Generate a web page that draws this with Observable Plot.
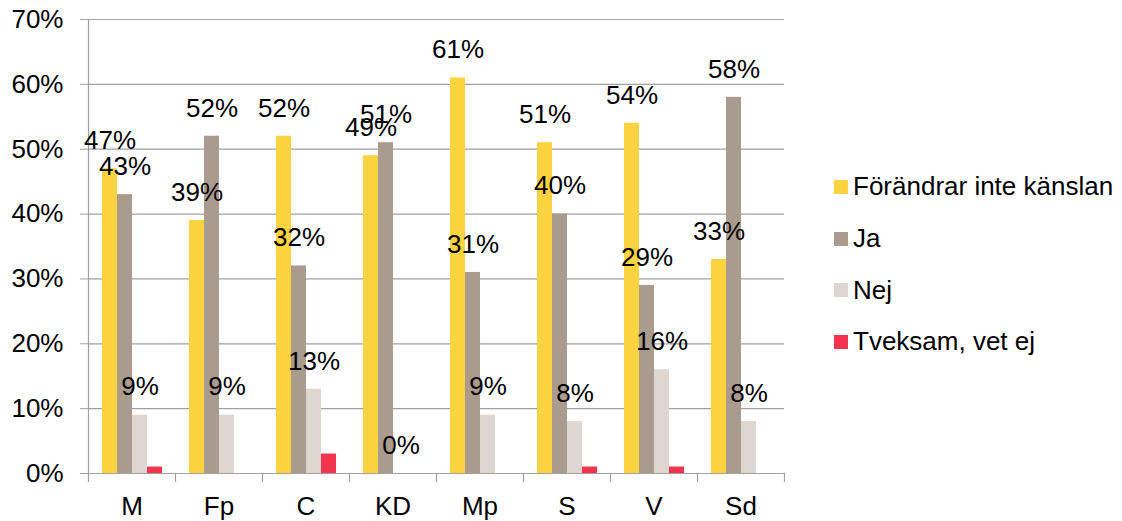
<!DOCTYPE html>
<html>
<head>
<meta charset="utf-8">
<script src="https://cdn.jsdelivr.net/npm/d3@7"></script>
<script src="https://cdn.jsdelivr.net/npm/@observablehq/plot@0.6"></script>
<style>
  html, body { margin: 0; padding: 0; background: #fff; }
  #wrap { position: relative; width: 1122px; height: 521px; font-family: "Liberation Sans", Arial, sans-serif; }
  #legend { position: absolute; left: 834px; top: 161px; font-size: 26px; color: #000; }
  #legend .item { display: flex; align-items: center; height: 51.7px; white-space: nowrap; }
  #legend .sw { width: 14px; height: 14px; margin-right: 5px; flex: none; }
</style>
</head>
<body>
<div id="wrap"></div>
<script>
const parties = ["M", "Fp", "C", "KD", "Mp", "S", "V", "Sd"];
const series = ["Förändrar inte känslan", "Ja", "Nej", "Tveksam, vet ej"];
const forandrar = [47, 39, 52, 49, 61, 51, 54, 33];
const ja = [43, 52, 32, 51, 31, 40, 29, 58];
const nej = [9, 9, 13, 0, 9, 8, 16, 8];
const tveksam = [1, null, 3, null, null, 1, 1, null];
const labelledSeries = ["Förändrar inte känslan", "Ja", "Nej"];
const colors = ["#FDD33F", "#A99B8D", "#DED7D1", "#F2344F"];
const yTicks = [0, 10, 20, 30, 40, 50, 60, 70];

const valuesBySeries = [forandrar, ja, nej, tveksam];
const data = [];
parties.forEach((p, i) => {
  series.forEach((s, j) => {
    const v = valuesBySeries[j][i];
    if (v !== null && v !== undefined) data.push({party: p, series: s, value: v});
  });
});
const labels = data.filter(d => labelledSeries.includes(d.series));

const W = 1122, H = 521, mT = 19, mB = 48, mL = 88, mR = 338;
const gridColor = "#a0a0a0";

const chart = Plot.plot({
  width: W, height: H,
  marginLeft: mL, marginRight: mR, marginTop: mT, marginBottom: mB,
  style: {fontFamily: "'Liberation Sans', Arial, sans-serif", fontSize: "26px", color: "#000", background: "#fff", overflow: "visible"},
  fx: {domain: parties, padding: 0, label: null, axis: "bottom", tickSize: 0, tickPadding: 23},
  x: {domain: series, paddingInner: 0, paddingOuter: 0.72, axis: null},
  y: {domain: [0, 70], axis: null},
  color: {domain: series, range: colors},
  marks: [
    Plot.ruleY(yTicks, {stroke: gridColor, strokeWidth: 1.2}),
    Plot.axisY({ticks: yTicks, tickSize: 8, tickPadding: 17, stroke: gridColor, fill: "#000", tickFormat: d => d + "%", label: null}),
    Plot.frame({anchor: "left", fx: ["M"], insetBottom: -8, stroke: gridColor, strokeWidth: 1.2}),
    Plot.frame({anchor: "right", insetTop: H - mT - mB, insetBottom: -8, stroke: gridColor, strokeWidth: 1.2}),
    Plot.barY(data, {fx: "party", x: "series", y: "value", fill: "series"}),
    Plot.text(labels, {fx: "party", x: "series", y: "value", text: d => d.value + "%", dy: -28, fill: "#000"})
  ]
});

const wrap = document.getElementById("wrap");
wrap.appendChild(chart);

const legend = document.createElement("div");
legend.id = "legend";
series.forEach((s, j) => {
  const item = document.createElement("div");
  item.className = "item";
  const sw = document.createElement("span");
  sw.className = "sw";
  sw.style.background = colors[j];
  const t = document.createElement("span");
  t.textContent = s;
  item.appendChild(sw);
  item.appendChild(t);
  legend.appendChild(item);
});
wrap.appendChild(legend);
</script>
</body>
</html>
